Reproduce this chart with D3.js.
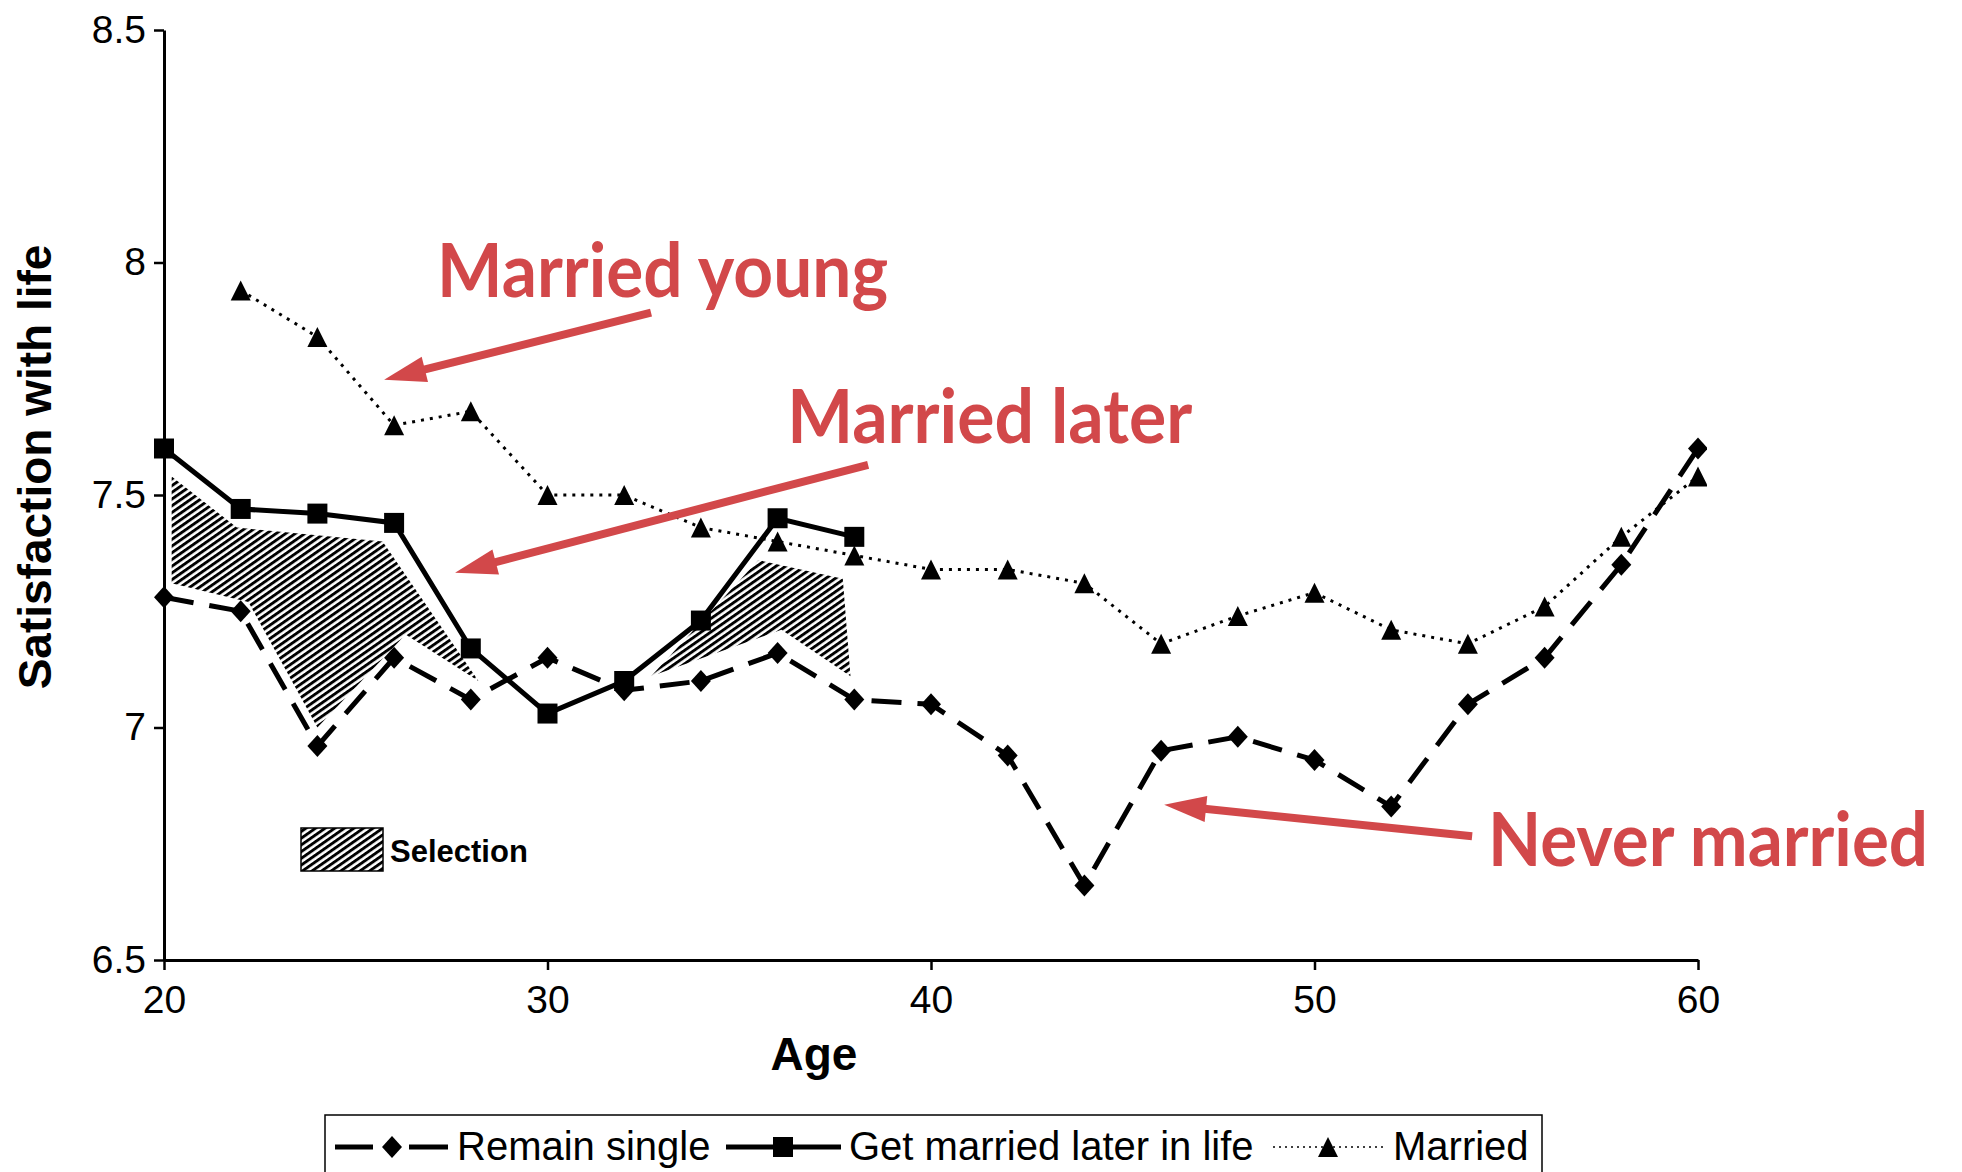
<!DOCTYPE html>
<html>
<head>
<meta charset="utf-8">
<script src="https://cdn.jsdelivr.net/npm/d3@7"></script>
<style>
  body { margin: 0; background: #fff; }
  text { font-family: 'Liberation Sans', Arial, Helvetica, sans-serif; }
</style>
</head>
<body>
<script>
'use strict';

// values
const singleAges = [20, 22, 24, 26, 28, 30, 32, 34, 36, 38, 40, 42, 44, 46, 48, 50, 52, 54, 56, 58, 60];
const singleValues = [7.28, 7.25, 6.96, 7.15, 7.06, 7.15, 7.08, 7.10, 7.16, 7.06, 7.05, 6.94, 6.66, 6.95, 6.98, 6.93, 6.83, 7.05, 7.15, 7.35, 7.60];

const laterAges = [20, 22, 24, 26, 28, 30, 32, 34, 36, 38];
const laterValues = [7.60, 7.47, 7.46, 7.44, 7.17, 7.03, 7.10, 7.23, 7.45, 7.41];

const marriedAges = [22, 24, 26, 28, 30, 32, 34, 36, 38, 40, 42, 44, 46, 48, 50, 52, 54, 56, 58, 60];
const marriedValues = [7.94, 7.84, 7.65, 7.68, 7.50, 7.50, 7.43, 7.40, 7.37, 7.34, 7.34, 7.31, 7.18, 7.24, 7.29, 7.21, 7.18, 7.26, 7.41, 7.54];

// hatched "selection" areas as [age, value] corners
const selectionA = [[20.2, 7.54], [21.9, 7.43], [25.7, 7.40], [28.2, 7.10], [26.3, 7.20], [24.0, 7.00], [22.2, 7.27], [20.2, 7.31]];
const selectionB = [[32.7, 7.11], [35.5, 7.36], [37.7, 7.32], [37.9, 7.11], [36.1, 7.21]];

const xTicks = [20, 30, 40, 50, 60];
const yTicks = [6.5, 7, 7.5, 8, 8.5];

const seriesNames = ['Remain single', 'Get married later in life', 'Married'];

// red call-outs: label, right end of label [age, value], arrow tail, arrow tip
const noteLabels = ['Married young', 'Married later', 'Never married'];
const noteAnchors = [[38.88, 7.926], [46.81, 7.612], [66.0, 6.703]];
const noteWidths = [451, 405, 440];
const noteTails = [[32.70, 7.892], [38.36, 7.565], [54.11, 6.766]];
const noteTips = [[25.74, 7.748], [27.59, 7.333], [46.08, 6.834]];

const m = { width: 1962, height: 1172, left: 164, right: 1698, top: 30, bottom: 960 };
const red = '#d2484a';

const svg = d3.select('body')
  .append('svg')
  .attr('width', m.width)
  .attr('height', m.height);

const xScale = d3.scaleLinear().domain([20, 60]).range([m.left, m.right]);
const yScale = d3.scaleLinear().domain([6.5, 8.5]).range([m.bottom, m.top]);

// hatch pattern for the selection areas
const defs = svg.append('defs');
const pattern = defs.append('pattern')
  .attr('id', 'hatch')
  .attr('patternUnits', 'userSpaceOnUse')
  .attr('width', 5.5)
  .attr('height', 5.5)
  .attr('patternTransform', 'rotate(-35)');
pattern.append('rect').attr('width', 5.5).attr('height', 5.5).attr('fill', '#fff');
pattern.append('rect').attr('width', 5.5).attr('height', 2.9).attr('fill', '#000');

defs.append('clipPath')
  .attr('id', 'plotClip')
  .append('rect')
  .attr('x', 0)
  .attr('y', 0)
  .attr('width', 1707)
  .attr('height', m.bottom);

// axes
const xAxis = svg.append('g')
  .attr('transform', 'translate(0,' + m.bottom + ')')
  .call(d3.axisBottom(xScale).tickValues(xTicks).tickSize(10).tickSizeOuter(0).tickPadding(15));

const yAxis = svg.append('g')
  .attr('transform', 'translate(' + m.left + ',0)')
  .call(d3.axisLeft(yScale).tickValues(yTicks).tickFormat(d3.format('~g'))
    .tickSize(10).tickSizeOuter(0).tickPadding(8));

[xAxis, yAxis].forEach((ax) => {
  ax.select('.domain').attr('stroke', '#000').attr('stroke-width', 3);
  ax.selectAll('.tick line').attr('stroke', '#000').attr('stroke-width', 2.5);
  ax.selectAll('.tick text')
    .attr('fill', '#000')
    .style('font-family', "'Liberation Sans', Arial, sans-serif")
    .style('font-size', '39px');
});

// axis titles
svg.append('text')
  .attr('x', 814)
  .attr('y', 1070)
  .attr('text-anchor', 'middle')
  .style('font-size', '46px')
  .style('font-weight', 'bold')
  .text('Age');

svg.append('text')
  .attr('transform', 'translate(51, 467)rotate(-90)')
  .attr('text-anchor', 'middle')
  .style('font-size', '46px')
  .style('font-weight', 'bold')
  .text('Satisfaction with life');

const plot = svg.append('g').attr('clip-path', 'url(#plotClip)');

// selection areas
[selectionA, selectionB].forEach((poly) => {
  plot.append('path')
    .attr('d', 'M' + poly.map((p) => xScale(p[0]) + ',' + yScale(p[1])).join('L') + 'Z')
    .attr('fill', 'url(#hatch)');
});

// marker shapes
function diamond(x, y) { return `M${x},${y - 11}L${x + 10},${y}L${x},${y + 11}L${x - 10},${y}Z`; }
function square(x, y) { return `M${x - 10},${y - 10}h20v20h-20Z`; }
function triangle(x, y) { return `M${x},${y - 10}L${x + 10},${y + 10}L${x - 10},${y + 10}Z`; }

const line = d3.line().x((d) => xScale(d[0])).y((d) => yScale(d[1]));

function drawSeries(ages, values, dash, width, shape) {
  const pts = ages.map((a, i) => [a, values[i]]);
  plot.append('path')
    .datum(pts)
    .attr('d', line)
    .attr('fill', 'none')
    .attr('stroke', '#000')
    .attr('stroke-width', width)
    .attr('stroke-dasharray', dash);
  plot.selectAll(null)
    .data(pts)
    .enter()
    .append('path')
    .attr('d', (d) => shape(xScale(d[0]), yScale(d[1])))
    .attr('fill', '#000');
}

drawSeries(marriedAges, marriedValues, '3,6', 3, triangle);
drawSeries(singleAges, singleValues, '30,16', 5, diamond);
drawSeries(laterAges, laterValues, null, 5, square);

// selection key
svg.append('rect')
  .attr('x', 301)
  .attr('y', 828)
  .attr('width', 82)
  .attr('height', 43)
  .attr('fill', 'url(#hatch)')
  .attr('stroke', '#000')
  .attr('stroke-width', 1.5);

svg.append('text')
  .attr('x', 390)
  .attr('y', 862)
  .style('font-size', '31px')
  .style('font-weight', 'bold')
  .text('Selection');

// legend box at the bottom
svg.append('rect')
  .attr('x', 325)
  .attr('y', 1115)
  .attr('width', 1217)
  .attr('height', 90)
  .attr('fill', 'none')
  .attr('stroke', '#000')
  .attr('stroke-width', 1.5);

const legendY = 1147;
const legendSym = [
  { x1: 335, x2: 448, cx: 392, dash: '38,36,40', width: 5, shape: diamond, tx: 457 },
  { x1: 726, x2: 841, cx: 783, dash: null, width: 5, shape: square, tx: 849 },
  { x1: 1273, x2: 1385, cx: 1328, dash: '2,4', width: 1.5, shape: triangle, tx: 1393 }
];
legendSym.forEach((s, i) => {
  svg.append('line')
    .attr('x1', s.x1).attr('x2', s.x2)
    .attr('y1', legendY).attr('y2', legendY)
    .attr('stroke', '#000')
    .attr('stroke-width', s.width)
    .attr('stroke-dasharray', s.dash);
  svg.append('path').attr('d', s.shape(s.cx, legendY)).attr('fill', '#000');
  svg.append('text')
    .attr('x', s.tx)
    .attr('y', 1160)
    .style('font-size', '40px')
    .text(seriesNames[i]);
});

// red call-outs
function drawArrow(from, to) {
  const x1 = xScale(from[0]), y1 = yScale(from[1]);
  const x2 = xScale(to[0]), y2 = yScale(to[1]);
  const len = Math.hypot(x2 - x1, y2 - y1);
  const ux = (x2 - x1) / len, uy = (y2 - y1) / len;
  const headLen = 42, headHalf = 13;
  const bx = x2 - ux * headLen, by = y2 - uy * headLen;
  svg.append('line')
    .attr('x1', x1).attr('y1', y1)
    .attr('x2', bx + ux * 4).attr('y2', by + uy * 4)
    .attr('stroke', red)
    .attr('stroke-width', 8);
  svg.append('path')
    .attr('d', `M${x2},${y2}L${bx - uy * headHalf},${by + ux * headHalf}L${bx + uy * headHalf},${by - ux * headHalf}Z`)
    .attr('fill', red);
}

noteLabels.forEach((label, i) => {
  drawArrow(noteTails[i], noteTips[i]);
  svg.append('text')
    .attr('x', xScale(noteAnchors[i][0]))
    .attr('y', yScale(noteAnchors[i][1]))
    .attr('text-anchor', 'end')
    .attr('textLength', noteWidths[i])
    .attr('lengthAdjust', 'spacingAndGlyphs')
    .attr('fill', red)
    .style('font-family', "Lato, 'Open Sans', sans-serif")
    .style('font-size', '75px')
    .style('font-weight', 'bold')
    .text(label);
});
</script>
</body>
</html>
